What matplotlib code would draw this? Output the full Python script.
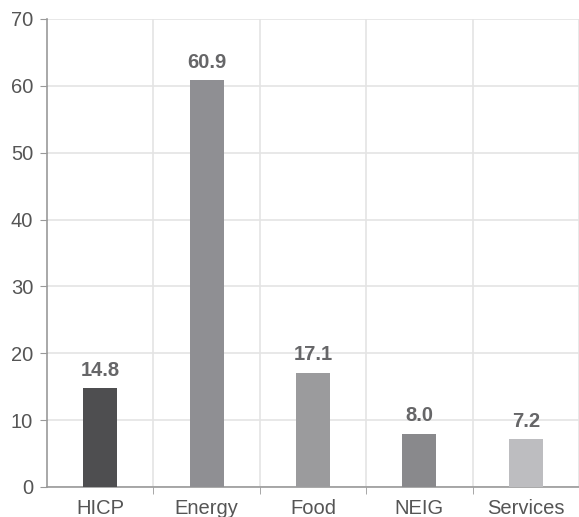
import matplotlib
matplotlib.use("Agg")
import matplotlib.pyplot as plt
import numpy as np

plt.rcParams["font.family"] = ["Liberation Sans", "DejaVu Sans"]

categories = ["HICP", "Energy", "Food", "NEIG", "Services"]
values = [14.8, 60.9, 17.1, 8.0, 7.2]
bar_colors = ["#4e4e50", "#8f8f93", "#9b9b9d", "#89898c", "#bdbdc0"]
y_ticks = [0, 10, 20, 30, 40, 50, 60, 70]

fig = plt.figure(figsize=(5.79, 5.17), dpi=100)
ax = fig.add_axes([47 / 579, 30 / 517, 532 / 579, 468 / 517])

x = np.arange(len(categories))
bars = ax.bar(x, values, width=0.32, color=bar_colors, zorder=3)
for rect, v in zip(bars, values):
    ax.annotate(f"{v:.1f}", (rect.get_x() + rect.get_width() / 2, v),
                xytext=(0, 6), textcoords="offset points", ha="center", va="bottom",
                fontsize=14.5, fontweight="bold", color="#666668")

ax.set_ylim(0, 70)
ax.set_xlim(-0.5, len(categories) - 0.53)
ax.set_yticks(y_ticks)
ax.set_xticks(x)
ax.set_xticklabels(categories)
ax.set_xticks(np.arange(len(categories)) + 0.5, minor=True)

ax.grid(axis="y", color="#e4e4e4", linewidth=1.2, zorder=0)
ax.grid(axis="x", which="minor", color="#e4e4e4", linewidth=1.2, zorder=0)
ax.tick_params(axis="x", which="major", length=0, pad=9, labelsize=14.5, labelcolor="#555555")
ax.tick_params(axis="x", which="minor", length=5, color="#999999", direction="out")
ax.tick_params(axis="y", length=5, color="#999999", pad=5, labelsize=14.5, labelcolor="#555555")

for side in ("top", "right"):
    ax.spines[side].set_visible(False)
for side in ("left", "bottom"):
    ax.spines[side].set_color("#999999")
    ax.spines[side].set_linewidth(1.2)

fig.savefig("out.png", dpi=100)
